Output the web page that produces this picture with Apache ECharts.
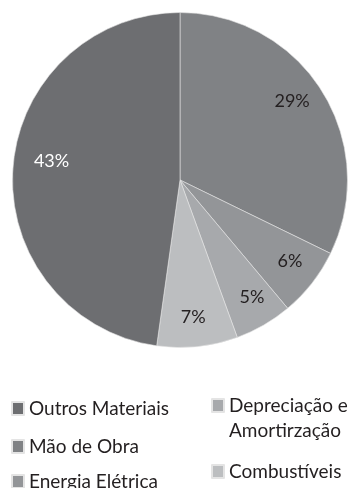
<!DOCTYPE html>
<html><head><meta charset="utf-8">
<script src="https://cdn.jsdelivr.net/npm/echarts@6/dist/echarts.min.js"></script>
<style>html,body{margin:0;padding:0;background:#fff}#c{width:353px;height:488px}</style>
</head><body><div id="c"></div>
<script>
// Data (clockwise from 12 o'clock)
const categories = ['Mão de Obra', 'Energia Elétrica', 'Depreciação e Amortirzação', 'Combustíveis', 'Outros Materiais'];
const values = [29, 6, 5, 7, 43];
// Legend layout order: column 1 then column 2
const legendItems = ['Outros Materiais', 'Mão de Obra', 'Energia Elétrica', 'Depreciação e Amortirzação', 'Combustíveis'];

// Styles / layout
const palette = ['#808285', '#939598', '#a7a9ac', '#bcbec0', '#6d6e71'];
const labelColors = ['#231f20', '#231f20', '#231f20', '#231f20', '#ffffff'];
const labelOffsets = [[-3, -7], [3, -2], [4, 0], [-1, 2], [7, -9]];
const legendSlots = [[11, 399], [11, 437], [11, 472], [211, 399], [211, 462]];
const FONT = 'Lato, "Open Sans", sans-serif';

const chart = echarts.init(document.getElementById('c'), null, {renderer: 'canvas'});

const legends = legendItems.map((name, i) => {
  const multi = name.indexOf(' e ') > 0;
  const lh = multi ? 25 : 13;
  const lines = multi ? 3 : 1;
  const extra = (lines * lh - 13) / 2;
  return {
    data: [name], orient: 'vertical', padding: 0, icon: 'rect', itemWidth: 12, itemHeight: 13,
    selectedMode: false,
    left: legendSlots[i][0], top: legendSlots[i][1] - extra,
    formatter: multi ? (n => '\n' + n.replace(' e ', ' e\n')) : '{name}',
    textStyle: {fontFamily: FONT, fontSize: 19, color: '#231f20', lineHeight: lh}
  };
});

chart.setOption({
  animation: false,
  backgroundColor: '#ffffff',
  legend: legends,
  series: [
    {
      type: 'pie', center: [180, 180], radius: 167.5, startAngle: 90, clockwise: true,
      silent: true, label: {show: false}, labelLine: {show: false},
      itemStyle: {borderColor: '#e4e4e4', borderWidth: 0.6},
      data: categories.map((n, i) => ({name: n, value: values[i], itemStyle: {color: palette[i]}}))
    },
    {
      type: 'pie', center: [180, 180], radius: [98, 167.5], startAngle: 90, clockwise: true,
      silent: true, labelLine: {show: false},
      itemStyle: {color: 'rgba(0,0,0,0)', borderWidth: 0},
      label: {show: true, position: 'inside', formatter: '{c}%', fontFamily: FONT, fontSize: 18},
      data: categories.map((n, i) => ({
        name: n, value: values[i],
        label: {color: labelColors[i], offset: labelOffsets[i]}
      }))
    }
  ]
});
</script>
</body></html>
